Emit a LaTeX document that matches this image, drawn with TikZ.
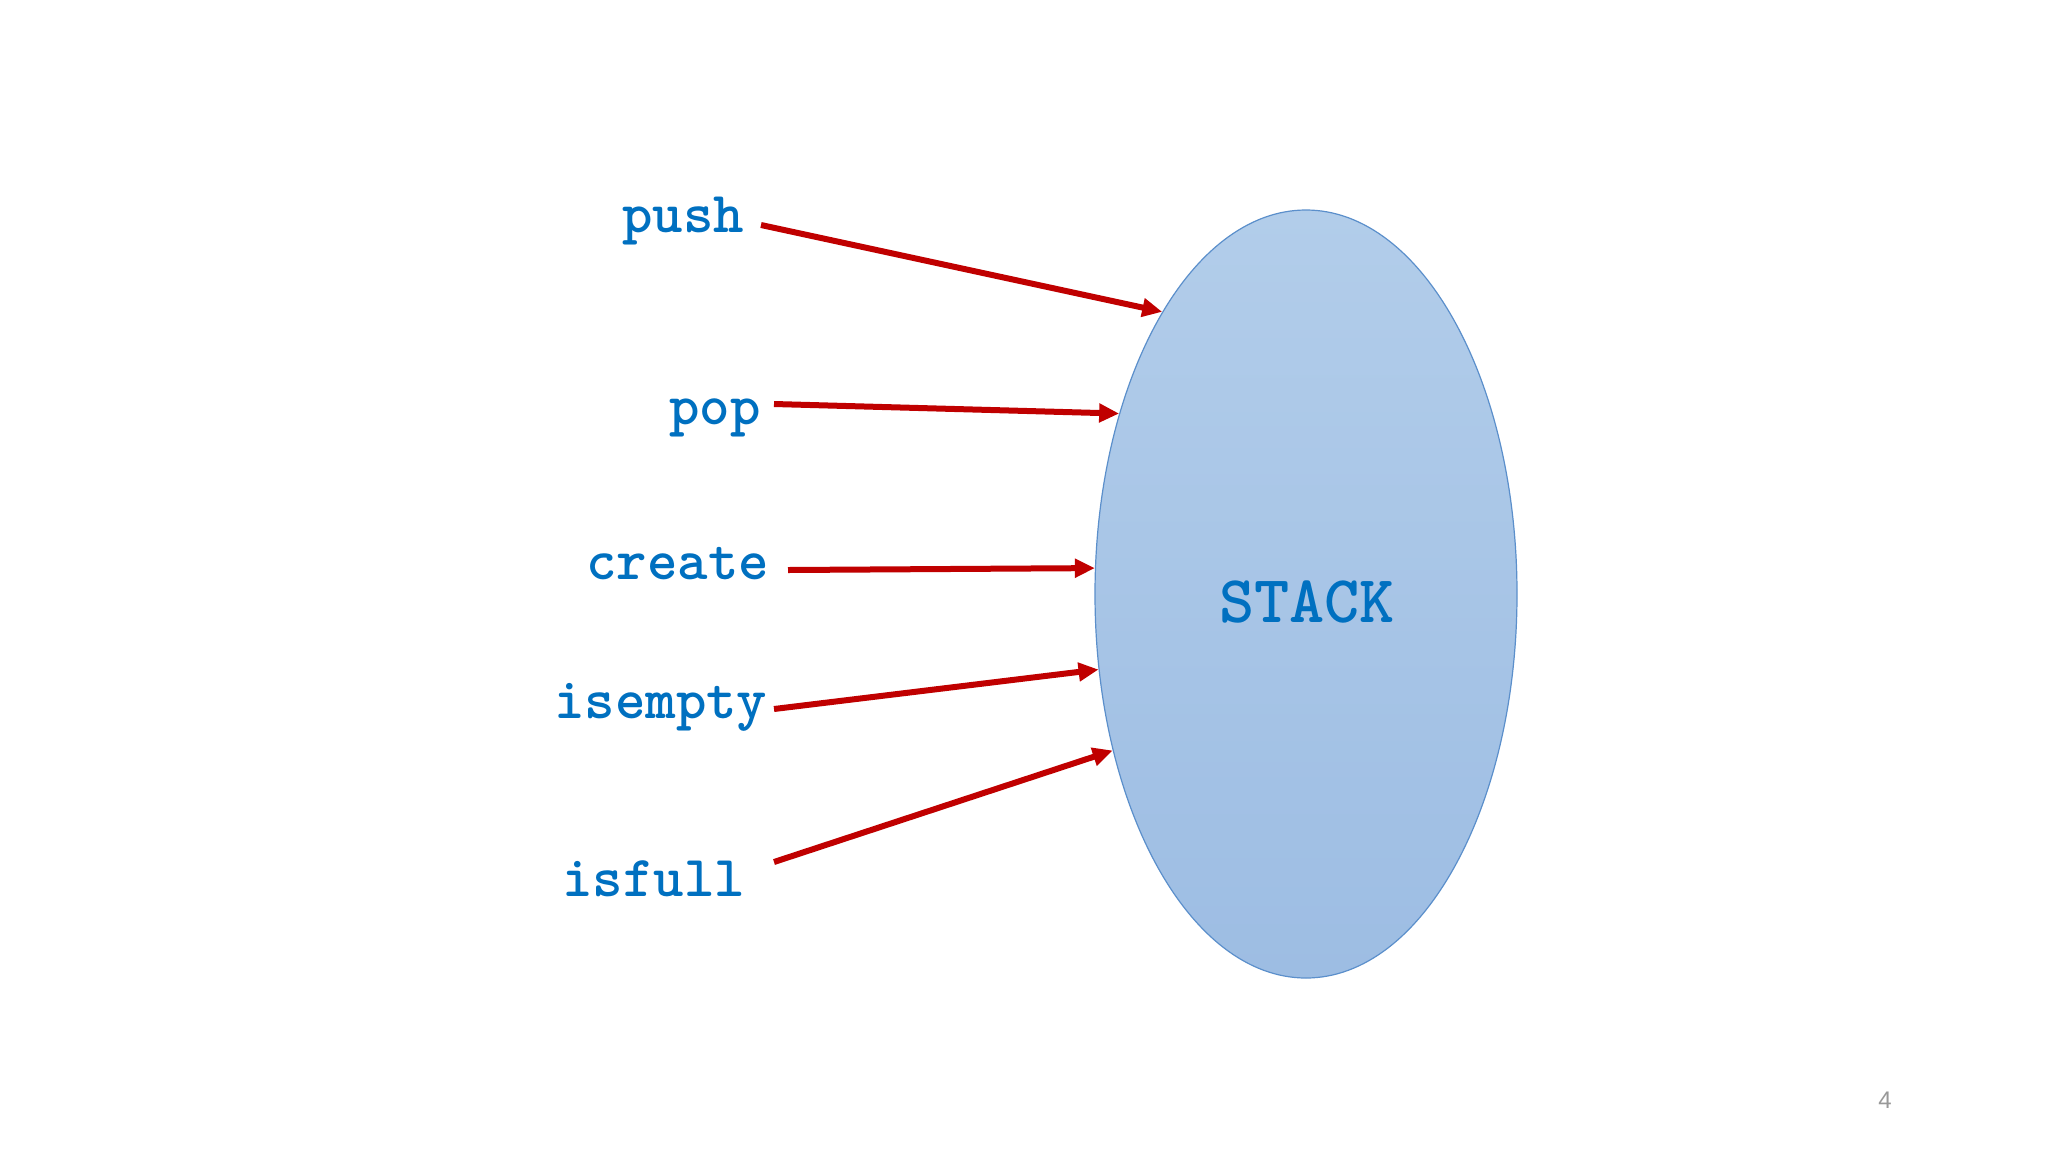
\documentclass[tikz,border=0pt]{standalone}
\usepackage{fontspec}
\setmainfont{Liberation Sans}
\usetikzlibrary{shapes.geometric,arrows.meta}
\definecolor{codeblue}{HTML}{0070C0}
\definecolor{arrred}{HTML}{C00000}
\definecolor{elltop}{HTML}{B2CDEA}
\definecolor{ellbot}{HTML}{9DBDE3}
\definecolor{ellline}{HTML}{5B8FCB}
\begin{document}
\begin{tikzpicture}[x=1pt,y=-1pt,
  oplabel/.style={font=\ttfamily\bfseries\fontsize{58}{58}\selectfont, text=codeblue, inner sep=0pt, anchor=base west},
  oparrow/.style={draw=arrred, line width=6pt, -{Triangle[length=20pt,width=18pt]}}
]
\useasboundingbox (0,0) rectangle (2048,1152);
\fill[white] (0,0) rectangle (2048,1152);

\node[ellipse, minimum width=422pt, minimum height=768pt, inner sep=0pt,
      top color=elltop, bottom color=ellbot, draw=ellline, line width=1.2pt] (stack) at (1306,594) {};
\node[font=\ttfamily\bfseries\fontsize{67}{67}\selectfont, text=codeblue, inner sep=0pt] (stacklbl) at (1307,602) {STACK};

\node[oplabel] (push) at (622,232) {push};
\node[oplabel] (pop) at (669,424) {pop};
\node[oplabel] (create) at (586,579) {create};
\node[oplabel] (isempty) at (554,718) {isempty};
\node[oplabel] (isfull) at (562,896) {isfull};

\coordinate (s1) at (761,225);
\coordinate (s2) at (774,404);
\coordinate (s3) at (788,570);
\coordinate (s4) at (774,709);
\coordinate (s5) at (774,862);

\draw[oparrow] (s1) -- (stack.117.8);
\draw[oparrow] (s2) -- (stack.136.3);
\draw[oparrow] (s3) -- (stack.173.5);
\draw[oparrow] (s4) -- (stack.200.2);
\draw[oparrow] (s5) -- (stack.219.5);

\node[font=\fontsize{24}{24}\selectfont, text=gray!80, inner sep=0pt] (pagenum) at (1885,1100) {4};
\end{tikzpicture}
\end{document}
